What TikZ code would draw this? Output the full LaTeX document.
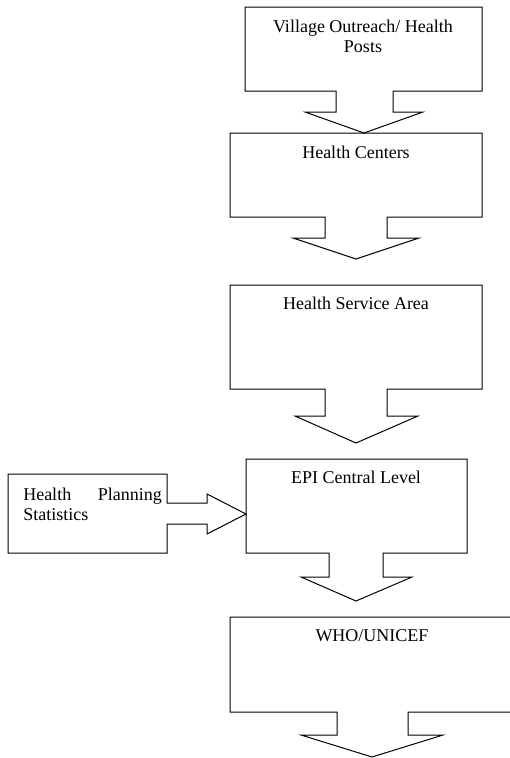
\documentclass[tikz,border=0pt]{standalone}
\usepackage{fontspec}
\setmainfont{Liberation Serif}
\begin{document}
\begin{tikzpicture}[x=0.75pt,y=-0.75pt,
  outline/.style={draw=black, line width=0.75pt, line join=miter},
  lbl/.style={font=\fontsize{13.5}{15}\selectfont, inner sep=0pt, anchor=base, align=center}]
\useasboundingbox (0,0) rectangle (510,758);
\clip (0,0) rectangle (510,758);
% Box 1
\draw[outline] (245,7) -- (482,7) -- (482,91) -- (393,91) -- (393,112) -- (423,112) -- (364,133)
  -- (305,112) -- (336,112) -- (336,91) -- (245,91) -- cycle;
\node[lbl] (t1) at (363,52) {Village Outreach/ Health\\Posts};
% Box 2
\draw[outline] (230,133) -- (482,133) -- (482,217) -- (387,217) -- (387,238) -- (419,238) -- (356,259)
  -- (293,238) -- (325,238) -- (325,217) -- (230,217) -- cycle;
\node[lbl] (t2) at (356,158) {Health Centers};
% Box 3
\draw[outline] (230,285) -- (482,285) -- (482,389) -- (387,389) -- (387,416) -- (418,416) -- (356,443)
  -- (295,416) -- (325,416) -- (325,389) -- (230,389) -- cycle;
\node[lbl] (t3) at (356,309) {Health Service Area};
% Box 4
\draw[outline] (246,459) -- (467,459) -- (467,553) -- (383,553) -- (383,577) -- (412,577) -- (356,601)
  -- (301,577) -- (329,577) -- (329,553) -- (246,553) -- cycle;
\node[lbl] (t4) at (356,483) {EPI Central Level};
% Box 5
\draw[outline] (230,617) -- (530,617) -- (530,712) -- (408,712) -- (408,735) -- (443,735) -- (372,757)
  -- (301,735) -- (337,735) -- (337,712) -- (230,712) -- cycle;
\node[lbl] (t5) at (372,641) {WHO/UNICEF};
% Left box
\draw[outline] (8,474) -- (167,474) -- (167,503) -- (207,503) -- (207,494) -- (246,514) -- (207,534)
  -- (207,524) -- (167,524) -- (167,553) -- (8,553) -- cycle;
\node[font=\fontsize{13.5}{15}\selectfont, inner sep=0pt, anchor=base west, text width=104pt, align=left] (t6) at (23,500) {Health\hfill Planning\\Statistics};
\end{tikzpicture}
\end{document}
